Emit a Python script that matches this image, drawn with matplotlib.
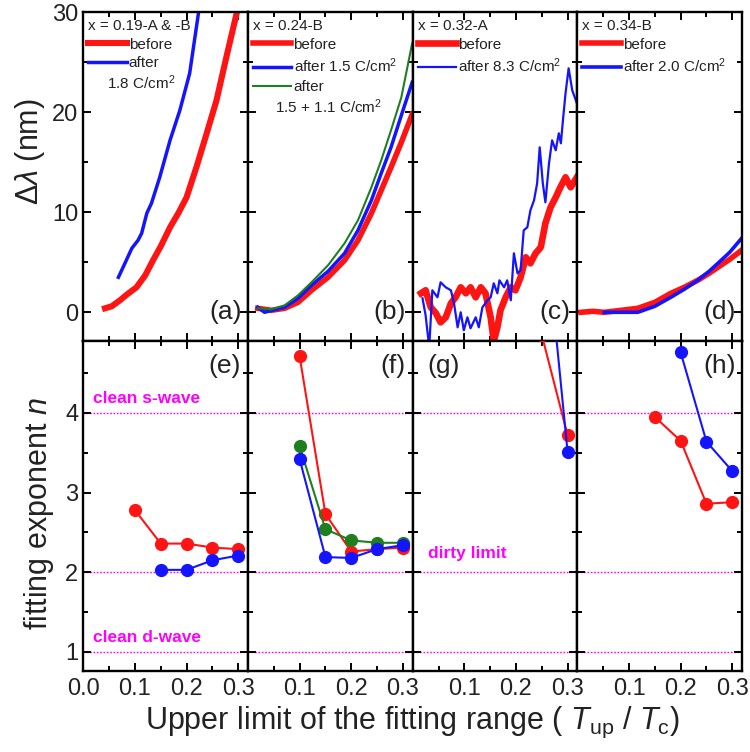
import matplotlib
matplotlib.use('Agg')
import matplotlib.pyplot as plt
from matplotlib.ticker import MultipleLocator, FixedLocator

plt.rcParams['font.family'] = ['Liberation Sans', 'DejaVu Sans']
plt.rcParams['mathtext.fontset'] = 'custom'
plt.rcParams['mathtext.rm'] = 'Liberation Sans'
plt.rcParams['mathtext.it'] = 'Liberation Sans:italic'
plt.rcParams['mathtext.bf'] = 'Liberation Sans:bold'
plt.rcParams['lines.solid_joinstyle'] = 'round'

RED = '#ff1414'
BLUE = '#1414ff'
GREEN = '#1f7f1f'
MAG = '#ff00ff'
TXT = '#222222'

# ---------------- penetration depth shift, Delta lambda (nm) vs T/Tc ----------------
# (a) x = 0.19
a_before_t = [0.042, 0.055, 0.071, 0.085, 0.103, 0.120, 0.135, 0.150, 0.168, 0.185,
              0.200, 0.219, 0.239, 0.258, 0.277, 0.297, 0.305]
a_before_d = [0.4, 0.6, 1.2, 1.8, 2.5, 3.7, 5.2, 6.6, 8.5, 10.0,
              11.5, 14.5, 17.9, 21.2, 25.5, 29.9, 31.5]
a_after_t = [0.068, 0.077, 0.094, 0.106, 0.113, 0.123, 0.132, 0.148, 0.168, 0.187,
             0.206, 0.223, 0.230]
a_after_d = [3.5, 4.5, 6.4, 7.2, 7.9, 9.9, 10.9, 13.5, 17.2, 20.2,
             23.9, 29.9, 32.5]

# (b) x = 0.24
b_before_t = [0.019, 0.045, 0.071, 0.097, 0.123, 0.155, 0.187, 0.213, 0.239, 0.258,
              0.277, 0.297, 0.318]
b_before_d = [0.4, 0.2, 0.4, 1.0, 2.2, 3.5, 5.2, 7.2, 9.9, 12.2,
              14.5, 17.0, 19.8]
b_after1_t = [0.019, 0.032, 0.071, 0.097, 0.123, 0.155, 0.187, 0.213, 0.239, 0.258,
              0.277, 0.297, 0.318]
b_after1_d = [0.5, 0.0, 0.5, 1.4, 2.7, 4.1, 5.9, 8.2, 11.2, 13.9,
              16.5, 19.7, 23.0]
b_after2_t = [0.019, 0.045, 0.071, 0.097, 0.123, 0.155, 0.187, 0.213, 0.239, 0.258,
              0.277, 0.297, 0.318]
b_after2_d = [0.4, 0.3, 0.7, 1.7, 3.0, 4.7, 6.9, 9.2, 12.5, 15.2,
              18.2, 21.5, 26.9]

# (c) x = 0.32
c_before_t = [0.016, 0.025, 0.035, 0.045, 0.054, 0.064, 0.074, 0.083, 0.093, 0.103,
              0.112, 0.122, 0.132, 0.141, 0.151, 0.157, 0.164, 0.170, 0.180, 0.190,
              0.199, 0.209, 0.219, 0.228, 0.238, 0.248, 0.257, 0.267, 0.277, 0.286,
              0.296, 0.306, 0.318]
c_before_d = [1.9, 2.2, 0.5, -0.1, -1.0, -0.5, 0.9, 1.5, 2.5, 1.9,
              2.5, 1.5, 2.5, 1.9, -0.5, -2.9, -1.5, 0.2, 1.5, 2.5,
              2.2, 3.5, 5.5, 4.9, 5.9, 6.5, 8.9, 10.5, 11.5, 12.5,
              13.5, 12.5, 13.5]
c_after_t = [0.019, 0.025, 0.032, 0.038, 0.048, 0.054, 0.064, 0.074, 0.080, 0.087,
             0.093, 0.099, 0.106, 0.112, 0.122, 0.128, 0.135, 0.145, 0.151, 0.157,
             0.164, 0.168, 0.177, 0.183, 0.190, 0.196, 0.203, 0.209, 0.215, 0.222,
             0.228, 0.235, 0.241, 0.246, 0.252, 0.257, 0.264, 0.270, 0.277, 0.283,
             0.287, 0.291, 0.296, 0.302, 0.309, 0.318]
c_after_d = [1.4, -0.3, -3.5, 2.2, 1.5, 3.0, 2.5, 2.2, 0.9, -1.5,
             0.0, -1.8, -0.5, -1.6, -0.5, -1.5, 0.5, 1.2, 1.5, 2.9,
             1.9, 3.2, 2.5, 3.2, 1.2, 5.9, 3.9, 4.2, 8.2, 8.5,
             10.2, 11.2, 12.9, 16.5, 12.9, 11.0, 14.9, 17.2, 16.2, 17.9,
             16.9, 19.2, 21.9, 24.4, 22.2, 20.9]

# (d) x = 0.34
d_before_t = [0.007, 0.030, 0.052, 0.085, 0.117, 0.150, 0.181, 0.207, 0.233, 0.255,
              0.272, 0.295, 0.318]
d_before_d = [0.0, 0.1, 0.0, 0.2, 0.4, 1.0, 1.9, 2.5, 3.2, 3.9,
              4.5, 5.3, 6.2]
d_after_t = [0.052, 0.085, 0.117, 0.150, 0.181, 0.207, 0.233, 0.255, 0.272, 0.295,
             0.318]
d_after_d = [0.0, 0.0, 0.0, 0.6, 1.5, 2.3, 3.2, 4.1, 4.9, 6.0,
             7.4]

# ---------------- fitting exponent n vs upper limit of fit ----------------
e_before_x = [0.10, 0.15, 0.20, 0.25, 0.30]
e_before_n = [2.78, 2.36, 2.36, 2.31, 2.29]
e_after_x = [0.15, 0.20, 0.25, 0.30]
e_after_n = [2.03, 2.03, 2.15, 2.21]

f_before_x = [0.10, 0.15, 0.20, 0.25, 0.30]
f_before_n = [4.71, 2.73, 2.26, 2.29, 2.31]
f_after1_x = [0.10, 0.15, 0.20, 0.25, 0.30]
f_after1_n = [3.42, 2.19, 2.18, 2.29, 2.34]
f_after2_x = [0.10, 0.15, 0.20, 0.25, 0.30]
f_after2_n = [3.58, 2.54, 2.40, 2.37, 2.37]

g_before_x = [0.25, 0.30]
g_before_n = [4.98, 3.72]
g_after_x = [0.25, 0.30]
g_after_n = [6.8, 3.51]

h_before_x = [0.15, 0.20, 0.25, 0.30]
h_before_n = [3.95, 3.65, 2.86, 2.88]
h_after_x = [0.20, 0.25, 0.30]
h_after_n = [4.76, 3.64, 3.27]

reference_n = [1, 2, 4]
reference_labels = ['clean d-wave', 'dirty limit', 'clean s-wave']

x_ticks = [0.0, 0.1, 0.2, 0.3]
x_ticklabels = ['0.0', '0.1', '0.2', '0.3']

# ---------------- layout ----------------
fig = plt.figure(figsize=(7.5, 7.52), dpi=100)
L = 83.3 / 750
W = 164.7 / 750
top_b = 1 - 341.3 / 752
top_h = (341.3 - 12.3) / 752
bot_b = 1 - 671.0 / 752
bot_h = (671.0 - 341.3) / 752

XLIM = (0.0, 0.319)


def style(ax, ymajor, yminor):
    ax.set_xlim(*XLIM)
    ax.xaxis.set_major_locator(FixedLocator(x_ticks))
    ax.xaxis.set_minor_locator(MultipleLocator(0.05))
    ax.yaxis.set_major_locator(MultipleLocator(ymajor))
    ax.yaxis.set_minor_locator(MultipleLocator(yminor))
    ax.tick_params(which='both', direction='in', top=True, right=True,
                   labelsize=17, colors='black', labelcolor=TXT, width=1.4)
    ax.tick_params(which='major', length=6)
    ax.tick_params(which='minor', length=3.5)
    ax.tick_params(axis='x', pad=5)
    for s in ax.spines.values():
        s.set_linewidth(1.7)


top_axes = []
bot_axes = []
for i in range(4):
    ax = fig.add_axes([L + i * W, top_b, W, top_h])
    style(ax, 10, 5)
    ax.set_ylim(-2.9, 30)
    ax.tick_params(labelbottom=False)
    if i > 0:
        ax.tick_params(labelleft=False)
    top_axes.append(ax)

    bx = fig.add_axes([L + i * W, bot_b, W, bot_h])
    style(bx, 1, 0.5)
    bx.set_ylim(0.76, 4.9)
    bx.yaxis.set_major_locator(FixedLocator([1, 2, 3, 4]))
    if i == 0:
        bx.set_xticklabels(x_ticklabels)
    else:
        bx.set_xticklabels([''] + x_ticklabels[1:])
        bx.tick_params(labelleft=False)
    for n in reference_n:
        bx.axhline(n, color=MAG, lw=1.0, ls=(0, (1.2, 1.2)), zorder=1)
    bot_axes.append(bx)

axa, axb, axc, axd = top_axes
axe, axf, axg, axh = bot_axes

# ---------------- top row ----------------
la1, = axa.plot(a_before_t, a_before_d, color=RED, lw=4.4, label='before')
la2, = axa.plot(a_after_t, a_after_d, color=BLUE, lw=2.5, label='after')

lb1, = axb.plot(b_before_t, b_before_d, color=RED, lw=4.0, label='before')
lb2, = axb.plot(b_after1_t, b_after1_d, color=BLUE, lw=2.5, label='after 1.5 C/cm$^2$')
lb3, = axb.plot(b_after2_t, b_after2_d, color=GREEN, lw=1.5, label='after')

lc1, = axc.plot(c_before_t, c_before_d, color=RED, lw=4.8, label='before')
lc2, = axc.plot(c_after_t, c_after_d, color=BLUE, lw=1.6, label='after 8.3 C/cm$^2$')

ld1, = axd.plot(d_before_t, d_before_d, color=RED, lw=4.0, label='before')
ld2, = axd.plot(d_after_t, d_after_d, color=BLUE, lw=2.6, label='after 2.0 C/cm$^2$')

legend_kw = dict(loc='upper left', bbox_to_anchor=(0.012, 0.99), frameon=False,
                 fontsize=11, title_fontsize=11, alignment='left',
                 handlelength=2.5, handletextpad=0.15, labelspacing=0.32,
                 borderpad=0.2, borderaxespad=0.0, labelcolor=TXT)

for ax, title, handles in [
        (axa, 'x = 0.19-A & -B', [la1, la2]),
        (axb, 'x = 0.24-B', [lb1, lb2, lb3]),
        (axc, 'x = 0.32-A', [lc1, lc2]),
        (axd, 'x = 0.34-B', [ld1, ld2])]:
    leg = ax.legend(handles=handles, title=title, **legend_kw)
    leg.get_title().set_color(TXT)

axa.text(0.145, 0.785, '1.8 C/cm$^2$', transform=axa.transAxes, fontsize=11,
         color=TXT, ha='left', va='center')
axb.text(0.162, 0.712, '1.5 + 1.1 C/cm$^2$', transform=axb.transAxes, fontsize=11,
         color=TXT, ha='left', va='center')

for ax, lab in zip(top_axes, ['(a)', '(b)', '(c)', '(d)']):
    ax.text(0.96, 0.09, lab, transform=ax.transAxes, fontsize=19, color=TXT,
            ha='right', va='center')

# ---------------- bottom row ----------------
mk = dict(marker='o', ms=8.5, lw=1.5, zorder=3)
axe.plot(e_before_x, e_before_n, color=RED, **mk)
axe.plot(e_after_x, e_after_n, color=BLUE, **mk)

axf.plot(f_before_x, f_before_n, color=RED, **mk)
axf.plot(f_after2_x, f_after2_n, color=GREEN, **mk)
axf.plot(f_after1_x, f_after1_n, color=BLUE, **mk)

axg.plot(g_before_x, g_before_n, color=RED, **mk)
axg.plot(g_after_x, g_after_n, color=BLUE, **mk)

axh.plot(h_before_x, h_before_n, color=RED, **mk)
axh.plot(h_after_x, h_after_n, color=BLUE, **mk)

mag_kw = dict(color=MAG, fontsize=12.5, fontweight='bold', ha='left', va='center')
axe.text(0.018, reference_n[2] + 0.18, reference_labels[2], **mag_kw)
axe.text(0.018, reference_n[0] + 0.18, reference_labels[0], **mag_kw)
axg.text(0.030, reference_n[1] + 0.24, reference_labels[1], **mag_kw)

for ax, lab, xpos, ha in [(axe, '(e)', 0.955, 'right'), (axf, '(f)', 0.955, 'right'),
                          (axg, '(g)', 0.09, 'left'), (axh, '(h)', 0.965, 'right')]:
    ax.text(xpos, 0.925, lab, transform=ax.transAxes, fontsize=19, color=TXT,
            ha=ha, va='center')

# ---------------- axis titles ----------------
fig.text(0.040, 1 - 152 / 752, r'$\Delta\lambda$ (nm)', rotation=90, fontsize=22,
         color=TXT, ha='center', va='center')
fig.text(0.052, 1 - 514 / 752, r'fitting exponent $n$', rotation=90, fontsize=22,
         color=TXT, ha='center', va='center')
fig.text(412.5 / 750, 1 - 722 / 752,
         r'Upper limit of the fitting range ( $T_{\mathrm{up}}$ / $T_{\mathrm{c}}$)',
         fontsize=22, color=TXT, ha='center', va='center')

fig.savefig('out.png', dpi=100)
